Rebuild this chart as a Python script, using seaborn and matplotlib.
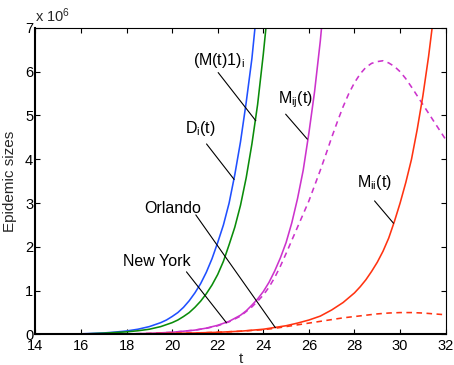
import matplotlib
matplotlib.use("Agg")
import matplotlib.pyplot as plt
import seaborn as sns
import pandas as pd

# ---- data (epidemic sizes in units of 10^6) ----
blue_t = [14, 15, 16, 17, 17.5, 18, 18.5, 19, 19.5, 19.75, 20, 20.25, 20.5, 20.75, 21, 21.25,
          21.5, 21.75, 22, 22.25, 22.5, 22.75, 23, 23.25, 23.5, 23.75]
blue_y = [0.0, 0.005, 0.015, 0.035, 0.055, 0.08, 0.12, 0.18, 0.27, 0.33, 0.41, 0.50, 0.62, 0.77,
          0.95, 1.16, 1.42, 1.73, 2.1, 2.5, 3.0, 3.65, 4.4, 5.3, 6.3, 7.6]

green_t = [14, 15, 16, 17, 18, 18.5, 19, 19.5, 20, 20.25, 20.5, 20.75, 21, 21.25, 21.5, 21.75,
           22, 22.25, 22.5, 22.75, 23, 23.25, 23.5, 23.75, 24, 24.25]
green_y = [0.0, 0.004, 0.01, 0.03, 0.06, 0.085, 0.12, 0.18, 0.27, 0.33, 0.41, 0.5, 0.62, 0.76,
           0.93, 1.13, 1.37, 1.67, 2.05, 2.45, 2.95, 3.58, 4.35, 5.25, 6.4, 7.7]

mag_t = [14, 16, 18, 19, 20, 21, 21.5, 22, 22.5, 23, 23.25, 23.5, 23.75, 24, 24.25, 24.5, 24.75,
         25, 25.25, 25.5, 25.75, 26, 26.25, 26.5, 26.75]
mag_y = [0.0, 0.003, 0.012, 0.025, 0.05, 0.1, 0.145, 0.21, 0.3, 0.44, 0.54, 0.67, 0.81, 0.98,
         1.19, 1.45, 1.75, 2.1, 2.55, 3.1, 3.75, 4.6, 5.55, 6.7, 8.1]

magd_t = [14, 16, 18, 19, 20, 21, 21.5, 22, 22.5, 23, 23.5, 23.75, 24, 24.25, 24.5, 24.75, 25,
          25.25, 25.5, 25.75, 26, 26.25, 26.5, 26.75, 27, 27.25, 27.5, 27.75, 28, 28.25, 28.5,
          28.75, 29, 29.25, 29.5, 29.75, 30, 30.25, 30.5, 30.75, 31, 31.25, 31.5, 31.75, 32]
magd_y = [0.0, 0.003, 0.012, 0.025, 0.05, 0.1, 0.14, 0.2, 0.29, 0.42, 0.63, 0.76, 0.9, 1.08,
          1.3, 1.56, 1.85, 2.15, 2.45, 2.75, 3.05, 3.4, 3.75, 4.12, 4.5, 4.86, 5.2, 5.5, 5.75,
          5.95, 6.1, 6.19, 6.23, 6.25, 6.2, 6.12, 6.0, 5.84, 5.65, 5.45, 5.25, 5.05, 4.85, 4.65,
          4.45]

red_t = [14, 16, 18, 20, 21, 22, 23, 24, 25, 25.5, 26, 26.5, 27, 27.5, 28, 28.25, 28.5, 28.75,
         29, 29.25, 29.5, 29.75, 30, 30.25, 30.5, 30.75, 31, 31.25, 31.5]
red_y = [0.0, 0.005, 0.012, 0.025, 0.035, 0.05, 0.075, 0.12, 0.2, 0.26, 0.33, 0.42, 0.56, 0.73,
         0.95, 1.09, 1.25, 1.44, 1.65, 1.9, 2.2, 2.58, 3.0, 3.47, 4.0, 4.68, 5.45, 6.35, 7.4]

redd_t = [14, 16, 18, 20, 21, 22, 23, 24, 24.5, 25, 25.5, 26, 26.5, 27, 27.5, 28, 28.5, 29, 29.5,
          30, 30.5, 31, 31.5, 32]
redd_y = [0.0, 0.005, 0.012, 0.025, 0.035, 0.05, 0.075, 0.11, 0.14, 0.18, 0.22, 0.26, 0.3, 0.34,
          0.38, 0.41, 0.44, 0.47, 0.49, 0.5, 0.5, 0.49, 0.47, 0.45]

x_ticks = [14, 16, 18, 20, 22, 24, 26, 28, 30, 32]
y_ticks = [0, 1, 2, 3, 4, 5, 6, 7]

# ---- style ----
sns.set_theme(style="ticks")
plt.rcParams["font.family"] = ["Liberation Sans", "DejaVu Sans"]
plt.rcParams["mathtext.fontset"] = "custom"
plt.rcParams["mathtext.rm"] = "Liberation Sans"
plt.rcParams["mathtext.it"] = "Liberation Sans"
plt.rcParams["mathtext.default"] = "regular"

fig = plt.figure(figsize=(4.54, 3.65), dpi=100)
ax = fig.add_axes([0.0778, 0.0836, 0.9039, 0.84])

C_BLUE = "#2050ff"
C_GREEN = "#0a8c0a"
C_MAG = "#cc33cc"
C_RED = "#ff3311"
LW = 1.15
DASH = (0, (3.5, 2.8))

series = [
    (blue_t, blue_y, C_BLUE, "-"),
    (green_t, green_y, C_GREEN, "-"),
    (magd_t, magd_y, C_MAG, DASH),
    (mag_t, mag_y, C_MAG, "-"),
    (redd_t, redd_y, C_RED, DASH),
    (red_t, red_y, C_RED, "-"),
]
for t, y, c, ls in series:
    df = pd.DataFrame({"t": t, "y": y})
    sns.lineplot(data=df, x="t", y="y", color=c, linestyle=ls, linewidth=LW, ax=ax,
                 sort=True, estimator=None)

ax.set_xlim(14, 32)
ax.set_ylim(0, 7)
ax.set_xticks(x_ticks)
ax.set_yticks(y_ticks)
ax.set_xticklabels([str(v) for v in x_ticks])
ax.set_yticklabels([str(v) for v in y_ticks])
ax.tick_params(direction="in", length=3.6, width=0.8, top=True, right=True,
               labelsize=10.5, colors="black")
ax.tick_params(axis="x", pad=3.5)
ax.tick_params(axis="y", pad=1.5)
for s in ["left", "bottom"]:
    ax.spines[s].set_linewidth(1.5)
for s in ["top", "right"]:
    ax.spines[s].set_linewidth(0.8)
for s in ax.spines.values():
    s.set_color("black")
    s.set_visible(True)

ax.set_xlabel("t", fontsize=11)
ax.set_ylabel("Epidemic sizes", fontsize=11)
ax.xaxis.set_label_coords(0.5, -0.056)
ax.xaxis.label.set_va("top")
ax.yaxis.set_label_coords(-0.062, 0.5)
ax.yaxis.label.set_va("center")

ax.text(0.0, 1.008, r"x 10$^{6}$", transform=ax.transAxes, ha="left", va="bottom",
        fontsize=10.5)

# ---- annotations ----
FS = 11.5
ann = [
    (r"$(M(t)1)_{i}$", 20.92, 6.15, (22.02, 23.67), (5.98, 4.88)),
    (r"$D_{i}(t)$", 20.56, 4.60, (21.51, 22.72), (4.35, 3.54)),
    (r"$M_{ij}(t)$", 24.64, 5.27, (24.98, 25.93), (5.03, 4.46)),
    (r"$M_{ii}(t)$", 28.10, 3.37, (28.88, 29.71), (3.05, 2.54)),
    ("Orlando", 18.77, 2.77, (21.04, 24.53), (2.73, 0.155)),
    ("New York", 17.83, 1.56, (20.63, 22.38), (1.43, 0.27)),
]
for txt, tx, ty, lx, ly in ann:
    ax.text(tx, ty, txt, ha="left", va="baseline", fontsize=FS, color="black")
    ax.plot(lx, ly, color="black", linewidth=0.8)

fig.savefig("out.png", dpi=100)
